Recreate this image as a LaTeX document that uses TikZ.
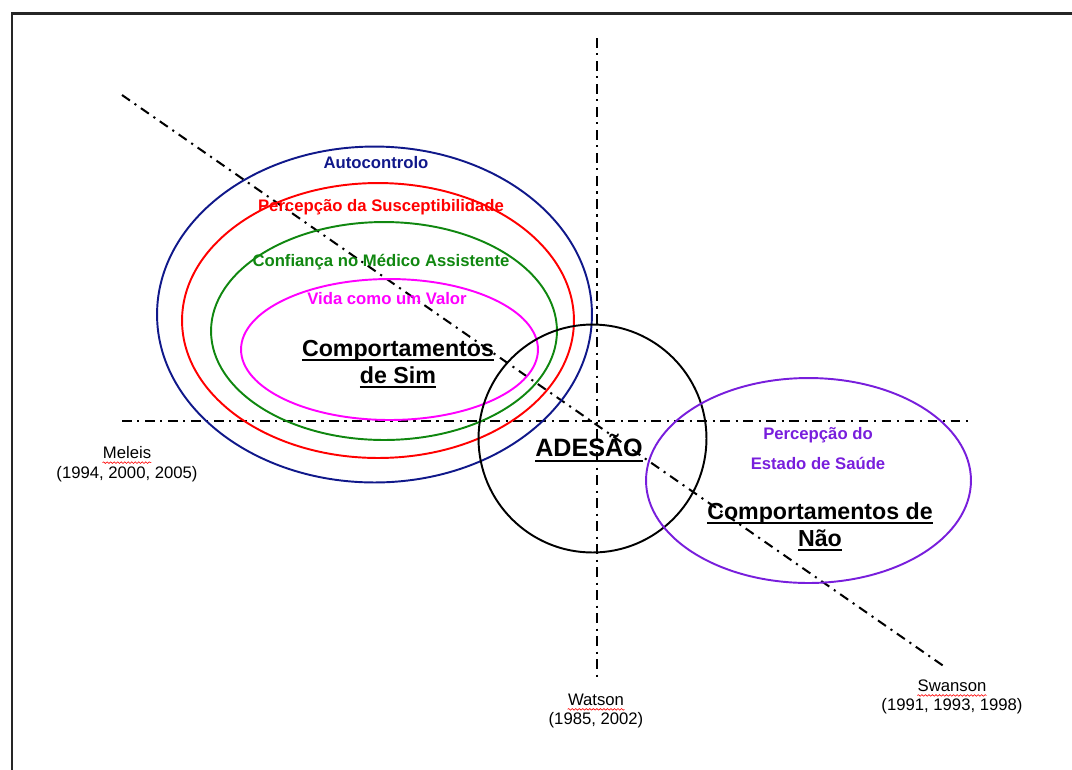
\documentclass[tikz,border=0pt]{standalone}
\usepackage{fontspec}
\setmainfont{Liberation Sans}
\newcommand\myul[1]{\setbox0\hbox{#1}\leavevmode\rlap{\vrule height -1.6pt depth 2.7pt width \wd0}\box0}
\usetikzlibrary{shapes.geometric,decorations.pathmorphing}
\definecolor{navyC}{RGB}{16,24,138}
\definecolor{redC}{RGB}{255,0,0}
\definecolor{greenC}{RGB}{16,135,16}
\definecolor{magC}{RGB}{255,0,255}
\definecolor{purpC}{RGB}{120,30,220}
\begin{document}
\begin{tikzpicture}[x=0.02cm,y=-0.02cm,
  ring/.style={ellipse,inner sep=0pt,line width=1.1pt},
  axis/.style={line width=1.15pt,dash pattern=on 5.5pt off 3.2pt on 1.2pt off 3.2pt},
  lbl/.style={font=\fontsize{9.5}{11.5}\selectfont\bfseries,inner sep=0pt},
  big/.style={font=\fontsize{13.2}{15.5}\selectfont\bfseries,inner sep=0pt,align=center},
  auth/.style={font=\fontsize{9.5}{12}\selectfont,inner sep=0pt,align=center},
  squig/.style={red,line width=0.35pt,decorate,decoration={snake,amplitude=0.45pt,segment length=2pt}}]
\useasboundingbox (0,0) rectangle (1072,769);
\begin{scope}
\clip (0,0) rectangle (1072,769);
\draw[line width=1.7pt,black!85] (12,13) rectangle (1090,790);
\end{scope}
% axes
\coordinate (vT) at (597,38);
\coordinate (vB) at (597,682);
\coordinate (hL) at (122,421);
\coordinate (hR) at (968,421);
\coordinate (dA) at (122,95);
\coordinate (dB) at (945,667);
\draw[axis] (vT) -- (vB);
\draw[axis] (hL) -- (hR);
\draw[axis] (dA) -- (dB);
% ellipses
\node[ring,draw=navyC,minimum width=8.7cm,minimum height=6.72cm] (eAuto) at (374.5,314.5) {};
\node[ring,draw=redC,minimum width=7.84cm,minimum height=5.5cm] (eSusc) at (378,320.5) {};
\node[ring,draw=greenC,minimum width=6.92cm,minimum height=4.36cm] (eConf) at (384,331) {};
\node[ring,draw=magC,minimum width=5.94cm,minimum height=2.82cm] (eVida) at (389.5,349.5) {};
\node[circle,inner sep=0pt,line width=1.1pt,draw=black,minimum size=4.56cm] (cAdesao) at (592.5,438.5) {};
\node[ring,draw=purpC,minimum width=6.5cm,minimum height=4.1cm] (eNao) at (808.5,480.5) {};
% labels
\node[lbl,text=navyC] (tAuto) at (376,163) {Autocontrolo};
\node[lbl,text=redC] (tSusc) at (381,207) {Percepção da Susceptibilidade};
\node[lbl,text=greenC] (tConf) at (381,262) {Confiança no Médico Assistente};
\node[lbl,text=magC] (tVida) at (387,299) {Vida como um Valor};
\node[big] (tSim) at (398,364) {\myul{Comportamentos}\\\myul{de Sim}};
\node[big,font=\fontsize{14.3}{16}\selectfont\bfseries] (tAdesao) at (589,448) {\myul{ADESÃO}};
\node[lbl,text=purpC] (tPerc1) at (818,435) {Percepção do};
\node[lbl,text=purpC] (tPerc2) at (818,463) {Estado de Saúde};
\node[big] (tNao) at (820,527) {\myul{Comportamentos de}\\\myul{Não}};
% authors
\node[auth] (aMel) at (127,453) {Meleis};
\node[auth] (aMelY) at (127,474) {(1994, 2000, 2005)};
\node[auth] (aWat) at (596,700) {Watson};
\node[auth] (aWatY) at (596,720) {(1985, 2002)};
\node[auth] (aSwa) at (952,686) {Swanson};
\node[auth] (aSwaY) at (952,706) {(1991, 1993, 1998)};
\draw[squig] ([yshift=-1.8pt]aMel.south west) -- ([yshift=-1.8pt]aMel.south east);
\draw[squig] ([yshift=-1.8pt]aWat.south west) -- ([yshift=-1.8pt]aWat.south east);
\draw[squig] ([yshift=-1.8pt]aSwa.south west) -- ([yshift=-1.8pt]aSwa.south east);
\end{tikzpicture}
\end{document}
